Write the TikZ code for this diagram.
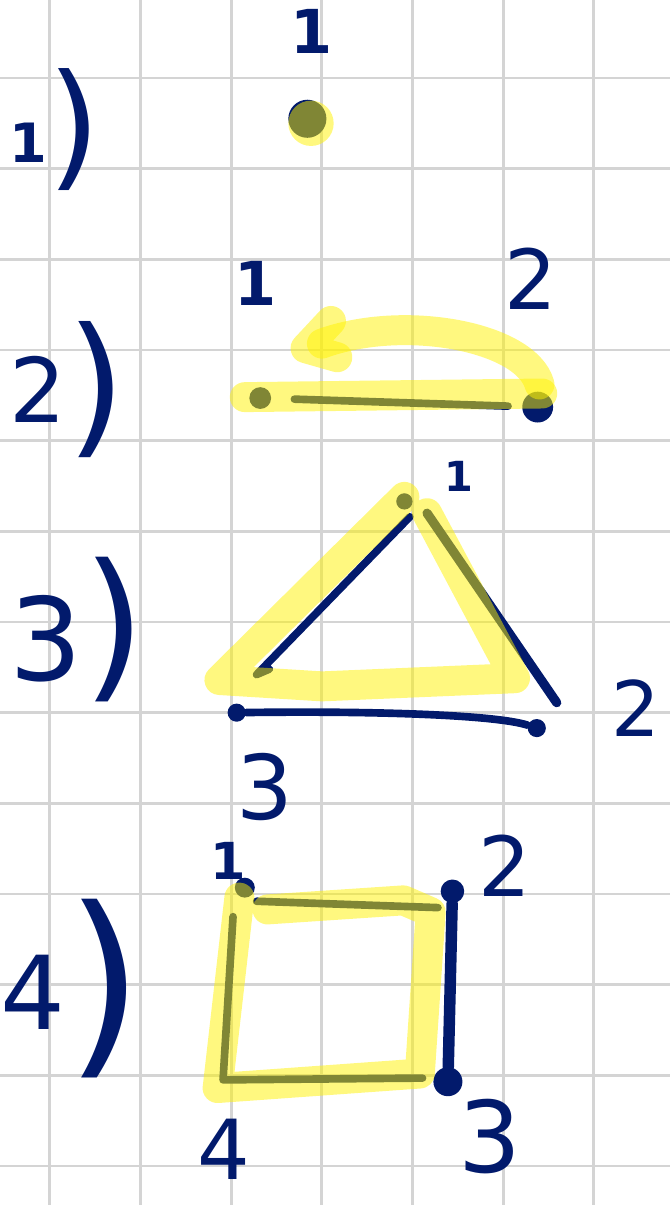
\documentclass[tikz,border=0pt]{standalone}
\usepackage{fontspec}
\setmainfont{DejaVu Sans}
\definecolor{ink}{RGB}{2,26,108}
\definecolor{gridgray}{RGB}{212,212,212}
\newcommand{\enumtext}[4]{\raisebox{#3}{\fontsize{#1}{#1}\selectfont #4}{\fontsize{#2}{#2}\selectfont )}}

\begin{document}
\begin{tikzpicture}[
    pen/.style={draw=ink, line width=2.4pt, line cap=round, line join=round},
    hilite/.style={draw=yellow, draw opacity=0.5, line width=9.4pt, line cap=round, line join=round},
    vdot/.style={circle, fill=ink, inner sep=0pt, minimum size=#1},
    num/.style={text=ink, inner sep=0pt, font=\bfseries\fontsize{#1}{#1}\selectfont},
    bignum/.style={text=ink, inner sep=0pt, font=\fontsize{#1}{#1}\selectfont},
    enum/.style={text=ink, inner sep=0pt, anchor=base west}
  ]
    \useasboundingbox (-0.55,-12.43) rectangle (6.84,0.86);
    \draw[gridgray, line width=0.9pt] (-0.55,-12.43) grid (6.84,0.86);

    % 1)
    \node[enum] (e1) at (-0.45,-1.04) {\enumtext{17}{43}{3pt}{\bfseries 1}};
    \node[vdot=0.42cm] (a1) at (2.84,-0.45) {};
    \fill[yellow, fill opacity=0.5] (2.88,-0.50) circle (0.25);
    \node[num=19] (la1) at (2.89,0.51) {1};

    % 2)
    \node[enum] (e2) at (-0.45,-3.96) {\enumtext{28}{48}{4.7pt}{2}};
    \node[vdot=0.24cm] (b1) at (2.32,-3.53) {};
    \node[vdot=0.34cm] (b2) at (5.38,-3.63) {};
    \draw[pen, shorten <=0.25cm, shorten >=0.15cm] (b1) -- (b2);
    \draw[hilite] (2.15,-3.52) -- (5.43,-3.48);
    \draw[hilite] (5.40,-3.38) .. controls (5.25,-2.85) and (3.9,-2.6) .. (3.00,-2.93);
    \draw[hilite] (3.10,-2.68) -- (2.82,-2.98) -- (3.17,-3.08);
    \node[num=19] (lb1) at (2.27,-2.27) {1};
    \node[bignum=26] (lb2) at (5.30,-2.21) {2};

    % 3)
    \node[enum] (e3) at (-0.45,-6.65) {\enumtext{36}{51}{0pt}{3}};
    \node[vdot=0.18cm] (t1) at (3.91,-4.67) {};
    \coordinate (t2) at (5.59,-6.89);
    \node[vdot=0.2cm] (t3) at (2.06,-7.00) {};
    \node[vdot=0.2cm] (t4) at (5.37,-7.17) {};
    \coordinate (t1a) at (4.16,-4.80);
    \coordinate (t1b) at (3.97,-4.84);
    \coordinate (t3a) at (2.28,-6.58);
    \coordinate (t3b) at (2.42,-6.52);
    \draw[pen, line width=2.9pt] (t1a) -- (t2);
    \draw[pen] (t1b) -- (t3a) -- (t3b);
    \draw[pen] (t3) .. controls (3.5,-6.98) and (4.9,-7.02) .. (t4);
    \draw[hilite] (3.91,-4.62) -- (1.87,-6.64) -- (3.0,-6.71) -- (5.13,-6.62) -- (4.16,-4.80);
    \node[num=13] (lc1) at (4.51,-4.39) {1};
    \node[bignum=24] (lc2) at (6.46,-6.95) {2};
    \node[bignum=28] (lc3) at (2.37,-7.82) {3};

    % 4)
    \node[enum] (e4) at (-0.55,-10.74) {\enumtext{32}{63}{7pt}{4}};
    \node[vdot=0.22cm] (s1) at (2.15,-8.93) {};
    \node[vdot=0.26cm] (s2) at (4.44,-8.97) {};
    \node[vdot=0.32cm] (s3) at (4.39,-11.07) {};
    \coordinate (s4) at (1.91,-11.05);
    \coordinate (s1a) at (2.28,-9.08);
    \coordinate (s2a) at (4.28,-9.15);
    \coordinate (s1b) at (2.02,-9.25);
    \coordinate (s3a) at (4.11,-11.03);
    \draw[pen] (s1a) -- (s2a);
    \draw[pen] (s1b) -- (s4) -- (s3a);
    \draw[pen, line width=3.6pt] (s2) -- (s3);
    \draw[hilite] (2.09,-9.04) -- (1.85,-11.14) -- (4.08,-10.98) -- (4.20,-9.20) -- (3.9,-9.07) -- (2.40,-9.17);
    \node[num=16] (ld1) at (1.97,-8.64) {1};
    \node[bignum=26] (ld2) at (5.02,-8.69) {2};
    \node[bignum=31] (ld3) at (4.85,-11.68) {3};
    \node[bignum=26] (ld4) at (1.92,-11.82) {4};
\end{tikzpicture}
\end{document}
